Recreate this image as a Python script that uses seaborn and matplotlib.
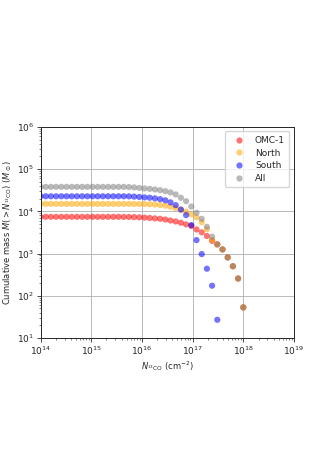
import numpy as np
import pandas as pd
import matplotlib
matplotlib.use("Agg")
import matplotlib.pyplot as plt
import seaborn as sns

# column density grid (cm^-2), 40 log-spaced bins
n13co = np.logspace(14, 18, 40)

# cumulative mass M(>N) in Msun
omc1 = [7400, 7400, 7400, 7400, 7400, 7400, 7400, 7400, 7400, 7400,
        7400, 7400, 7400, 7400, 7400, 7400, 7380, 7350, 7300, 7200,
        7100, 6950, 6800, 6650, 6400, 6050, 5750, 5350, 4900, 4500,
        3720, 3180, 2600, 2000, 1650, 1250, 810, 500, 256, 53]
north = [15000, 15000, 15000, 15000, 15000, 15000, 15000, 15000, 15000, 15000,
         15000, 15000, 15000, 15000, 15000, 15000, 15000, 15000, 14950, 14900,
         14800, 14700, 14500, 14100, 13600, 12800, 11900, 10900, 9800, 8500,
         7200, 5500, 3750, 2100, 1650, 1250, 810, 500, 256, 53]
south = [22700, 22700, 22700, 22700, 22700, 22700, 22700, 22700, 22700, 22700,
         22700, 22700, 22700, 22700, 22700, 22700, 22700, 22600, 22300, 21900,
         21400, 21000, 20300, 19400, 18200, 16300, 14000, 11000, 8130, 4710,
         2080, 970, 437, 173, 27]
all_reg = [37900, 37900, 37900, 37900, 37900, 37900, 37900, 37900, 37900, 37900,
           37900, 37900, 37900, 37900, 37900, 37900, 37900, 37500, 36800, 35800,
           34800, 34000, 33000, 31700, 30000, 28000, 25100, 20900, 17400, 13000,
           9200, 6650, 4300, 2500, 1650, 1250, 810, 500, 256, 53]

regions = ["OMC-1", "North", "South", "All"]
colors = ["red", "orange", "blue", "gray"]

frames = []
for name, vals in zip(regions, [omc1, north, south, all_reg]):
    frames.append(pd.DataFrame({"N": n13co[:len(vals)], "M": vals, "region": name}))
df = pd.concat(frames, ignore_index=True)

sns.set_style("ticks")
plt.rcParams["font.family"] = ["DejaVu Sans"]

fig = plt.figure(figsize=(3.27, 4.63), dpi=100)
ax = fig.add_axes([0.124, 0.270, 0.775, 0.456])

sns.scatterplot(data=df, x="N", y="M", hue="region", hue_order=regions,
                palette=colors, alpha=0.55, s=20, linewidth=0, ax=ax)

ax.set_xscale("log")
ax.set_yscale("log")
ax.set_xlim(1e14, 1e19)
ax.set_ylim(1e1, 1e6)
ax.grid(True, which="major", color="#b0b0b0", linewidth=0.6)
ax.tick_params(which="major", labelsize=6.5, length=3, width=0.6, pad=1.5)
ax.tick_params(which="minor", length=1.5, width=0.4)
for sp in ax.spines.values():
    sp.set_linewidth(0.7)

ax.set_xlabel(r"$N_{^{13}\mathrm{CO}}$ (cm$^{-2}$)", fontsize=6, labelpad=2)
ax.set_ylabel(r"Cumulative mass $M(>N_{^{13}\mathrm{CO}})$ $(M_\odot)$",
              fontsize=6, labelpad=2)

leg = ax.legend(loc="upper right", fontsize=6.5, title=None, markerscale=1.0,
                handletextpad=0.8, borderpad=0.5, labelspacing=0.4)

fig.savefig("out.png", dpi=100)
